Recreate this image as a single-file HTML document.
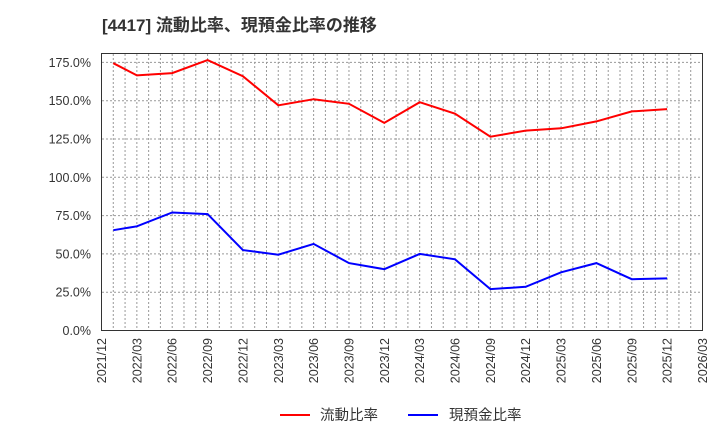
<!DOCTYPE html>
<html><head><meta charset="utf-8"><style>
body{margin:0;background:#fff;width:720px;height:440px;overflow:hidden}
svg text{font-family:"Liberation Sans","Noto Sans CJK JP",sans-serif}
</style></head><body>
<svg id="s" width="720" height="440" xmlns="http://www.w3.org/2000/svg">
<text x="102" y="31" font-size="17" font-weight="bold" fill="#333">[4417]  流動比率、現預金比率の推移</text>
<g id="g"></g>
<rect x="101.5" y="53.5" width="601" height="277" fill="none" stroke="#333" stroke-width="1"/>
<line x1="280" y1="415" x2="310" y2="415" stroke="#f00" stroke-width="2"/>
<text x="320" y="420" font-size="14.5" fill="#333">流動比率</text>
<line x1="408" y1="415" x2="438" y2="415" stroke="#00f" stroke-width="2"/>
<text x="449" y="420" font-size="14.5" fill="#333">現預金比率</text>
</svg>
<script>
var g=document.getElementById('g'),h='';
function Y(v){return 330.5-v*1.532;}
function X(m){return 101.5+m*601/51;}
for(var m=1;m<51;m++){h+='<line x1="'+X(m)+'" y1="54" x2="'+X(m)+'" y2="330" stroke="#999" stroke-dasharray="2,2" stroke-width="1"/>';}
for(var v=25;v<=175;v+=25){h+='<line x1="102" y1="'+Y(v)+'" x2="702" y2="'+Y(v)+'" stroke="#999" stroke-dasharray="2,2" stroke-width="1"/>';}
for(var v=0;v<=175;v+=25){h+='<text x="91" y="'+(Y(v)+4.5)+'" font-size="12.5" fill="#333" text-anchor="end">'+v.toFixed(1)+'%</text>';}
var labs=[];for(var y=2021;y<=2026;y++)['03','06','09','12'].forEach(function(q){labs.push(y+'/'+q)});
labs=labs.slice(3,21);
labs.forEach(function(l,i){var x=X(i*3)+4.5;h+='<text transform="translate('+x+',338) rotate(-90)" font-size="12.5" fill="#333" text-anchor="end">'+l+'</text>';});
var r=[174.5,166.5,168,176.5,166,147,151,148,135.5,149,141.5,126.5,130.5,132,136.5,143,144.5];
var b=[65.5,68,77,76,52.5,49.5,56.5,44,40,50,46.5,27,28.5,38,44,33.5,34];
function pl(d,c){var p=d.map(function(v,i){var m=i==0?1:i*3;return X(m).toFixed(1)+','+Y(v).toFixed(1)}).join(' ');return '<polyline points="'+p+'" fill="none" stroke="'+c+'" stroke-width="2"/>';}
h+=pl(r,'#f00')+pl(b,'#00f');
g.innerHTML=h;
</script>
</body></html>
